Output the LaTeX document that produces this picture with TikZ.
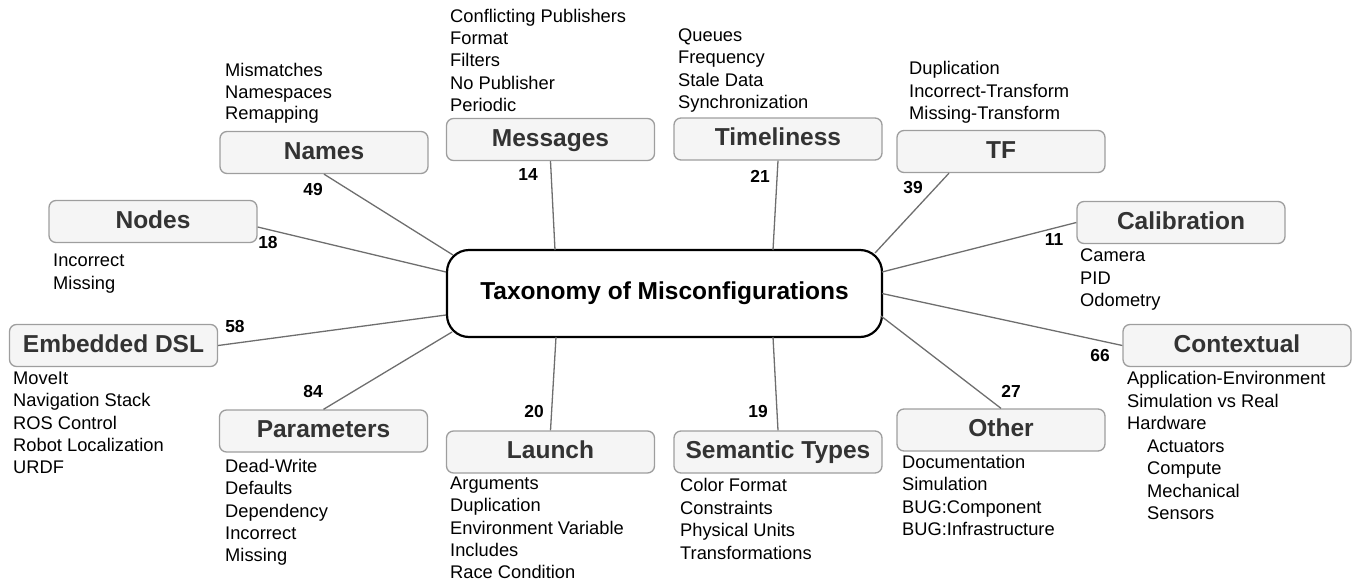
\documentclass[tikz,border=0pt]{standalone}
\usepackage{fontspec}
\setmainfont{Liberation Sans}
\usetikzlibrary{calc}
\definecolor{boxfill}{HTML}{F5F5F5}
\definecolor{boxline}{HTML}{9E9E9E}
\definecolor{cattext}{HTML}{333333}
\definecolor{conn}{HTML}{6E6E6E}
\begin{document}
\begin{tikzpicture}[x=1pt,y=-1pt,
  cat/.style={draw=boxline, fill=boxfill, line width=1.3pt, rounded corners=7pt,
    minimum width=208pt, minimum height=42pt, inner sep=0pt, text=cattext,
    font=\fontsize{24.5}{28}\selectfont\bfseries, text height=17.5pt, text depth=4pt},
  itm/.style={inner sep=0pt, anchor=base west, font=\fontsize{18.3}{22}\selectfont},
  num/.style={inner sep=0pt, font=\fontsize{17.4}{20}\selectfont\bfseries},
  link/.style={draw=conn, line width=1.3pt}]
\useasboundingbox (0,0) rectangle (1353,584);

% central node
\node[draw=black, line width=2.2pt, rounded corners=22pt, fill=white,
  minimum width=435pt, minimum height=87pt, inner sep=0pt,
  font=\fontsize{24.5}{28}\selectfont\bfseries] (c) at (664.5,293.5) {Taxonomy of Misconfigurations};

% category boxes
\node[cat] (names) at (324,152.5) {Names};
\node[cat] (messages) at (550.5,139.5) {Messages};
\node[cat] (timeliness) at (778,139) {Timeliness};
\node[cat] (tf) at (1001,151.5) {TF};
\node[cat] (nodes) at (153,221.5) {Nodes};
\node[cat] (calib) at (1181,222.5) {Calibration};
\node[cat] (edsl) at (113.5,345.5) {Embedded DSL};
\node[cat, minimum width=228pt] (context) at (1237,345.5) {Contextual};
\node[cat] (params) at (323.5,431) {Parameters};
\node[cat] (launch) at (550.5,452) {Launch};
\node[cat] (semantic) at (778,452) {Semantic Types};
\node[cat] (other) at (1001,430) {Other};

% connectors
\draw[link] (names.south) -- ($(c.center)+(-211.5,-38.5)$);
\draw[link] ($(nodes.east)+(0,5.5)$) -- ($(c.center)+(-218.5,-21.5)$);
\draw[link] (edsl.east) -- ($(c.center)+(-218.5,21.5)$);
\draw[link] (params.north) -- ($(c.center)+(-212.5,38.5)$);
\draw[link] (messages.south) -- ($(c.center)+(-109.5,-43.5)$);
\draw[link] (launch.north) -- ($(c.center)+(-108.5,43.5)$);
\draw[link] (timeliness.south) -- ($(c.center)+(108.5,-43.5)$);
\draw[link] (semantic.north) -- ($(c.center)+(108.5,43.5)$);
\draw[link] ($(tf.south)+(-52,0)$) -- ($(c.center)+(210.5,-40.5)$);
\draw[link] (calib.west) -- ($(c.center)+(217.5,-21.5)$);
\draw[link] (context.west) -- ($(c.center)+(217.5,0)$);
\draw[link] (other.north) -- ($(c.center)+(216.5,22.5)$);

% counts
\node[num] (n49) at (313,190) {49};
\node[num] (n14) at (528,175) {14};
\node[num] (n18) at (268,243) {18};
\node[num] (n58) at (235,327) {58};
\node[num] (n84) at (313,392) {84};
\node[num] (n20) at (534,412) {20};
\node[num] (n19) at (758,412) {19};
\node[num] (n21) at (760,176) {21};
\node[num] (n39) at (913,188) {39};
\node[num] (n11) at (1054,240) {11};
\node[num] (n66) at (1100,356) {66};
\node[num] (n27) at (1011,391) {27};

% item lists
\foreach \t [count=\i from 0] in {Mismatches,Namespaces,Remapping}
  \node[itm] (namesI\i) at (225,{76.5+21.5*\i}) {\t};
\foreach \t [count=\i from 0] in {Conflicting Publishers,Format,Filters,No Publisher,Periodic}
  \node[itm] (messagesI\i) at (450,{22.5+22.2*\i}) {\t};
\foreach \t [count=\i from 0] in {Queues,Frequency,Stale Data,Synchronization}
  \node[itm] (timelinessI\i) at (678,{41.5+22.3*\i}) {\t};
\foreach \t [count=\i from 0] in {Duplication,Incorrect-Transform,Missing-Transform}
  \node[itm] (tfI\i) at (909,{74.5+22.5*\i}) {\t};
\foreach \t [count=\i from 0] in {Incorrect,Missing}
  \node[itm] (nodesI\i) at (53,{266.5+22.5*\i}) {\t};
\foreach \t [count=\i from 0] in {Camera,PID,Odometry}
  \node[itm] (calibI\i) at (1080,{261.5+22.5*\i}) {\t};
\foreach \t [count=\i from 0] in {MoveIt,Navigation Stack,ROS Control,Robot Localization,URDF}
  \node[itm] (edslI\i) at (13,{384.5+22.25*\i}) {\t};
\foreach \t [count=\i from 0] in {Dead-Write,Defaults,Dependency,Incorrect,Missing}
  \node[itm] (paramsI\i) at (225,{472.5+22.25*\i}) {\t};
\foreach \t [count=\i from 0] in {Arguments,Duplication,Environment Variable,Includes,Race Condition}
  \node[itm] (launchI\i) at (450,{489.5+22.25*\i}) {\t};
\foreach \t [count=\i from 0] in {Color Format,Constraints,Physical Units,Transformations}
  \node[itm] (semanticI\i) at (680,{491.5+22.7*\i}) {\t};
\foreach \t [count=\i from 0] in {Documentation,Simulation,BUG:Component,BUG:Infrastructure}
  \node[itm] (otherI\i) at (902,{468.5+22.3*\i}) {\t};
\foreach \t [count=\i from 0] in {Application-Environment,Simulation vs Real,Hardware}
  \node[itm] (contextI\i) at (1127,{384.5+22.5*\i}) {\t};
\foreach \t [count=\i from 3] in {Actuators,Compute,Mechanical,Sensors}
  \node[itm] (contextI\i) at (1147,{384.5+22.5*\i}) {\t};
\end{tikzpicture}
\end{document}
